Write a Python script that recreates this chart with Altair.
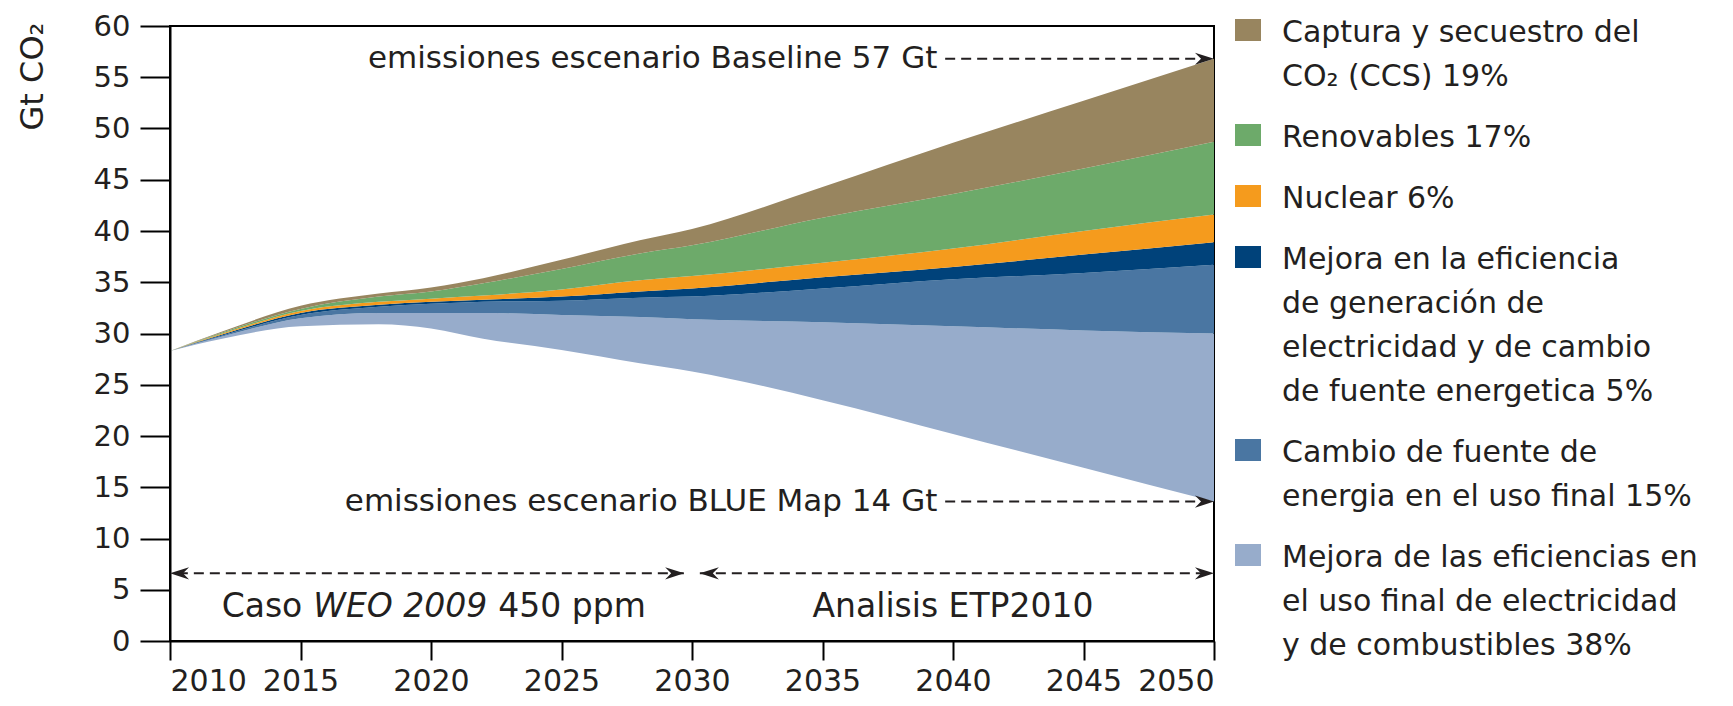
import altair as alt
import pandas as pd

# ---------------- data ----------------
years = [2010, 2012, 2015, 2018, 2020, 2022, 2025, 2028, 2030, 2035, 2040, 2045, 2050]
# lower edge = BLUE Map emissions
blue_map = [28.3, 29.5, 30.7, 30.9, 30.5, 29.5, 28.4, 27.1, 26.3, 23.5, 20.2, 16.9, 13.6]
# cumulative upper edges of each wedge
top_end_use_eff = [28.3, 29.7, 31.5, 32.0, 32.0, 32.0, 31.8, 31.6, 31.4, 31.1, 30.7, 30.3, 30.0]
top_end_use_switch = [28.3, 29.8, 31.8, 32.6, 32.9, 33.1, 33.2, 33.5, 33.6, 34.4, 35.3, 35.9, 36.7]
top_power_eff = [28.3, 29.9, 32.0, 32.8, 33.1, 33.3, 33.6, 34.1, 34.4, 35.5, 36.5, 37.7, 38.9]
top_nuclear = [28.3, 30.0, 32.2, 33.1, 33.4, 33.7, 34.3, 35.2, 35.6, 36.9, 38.3, 40.0, 41.6]
top_renewables = [28.3, 30.1, 32.4, 33.6, 34.1, 34.9, 36.3, 37.8, 38.6, 41.3, 43.6, 46.1, 48.7]
baseline = [28.3, 30.2, 32.7, 33.9, 34.5, 35.4, 37.2, 39.1, 40.2, 44.3, 48.6, 52.7, 56.8]

layer_labels = [
    "Mejora de las eficiencias en\nel uso final de electricidad\ny de combustibles 38%",
    "Cambio de fuente de\nenergia en el uso final 15%",
    "Mejora en la eficiencia\nde generación de\nelectricidad y de cambio\nde fuente energetica 5%",
    "Nuclear 6%",
    "Renovables 17%",
    "Captura y secuestro del\nCO₂ (CCS) 19%",
]
layer_colors = ["#97ACCB", "#4A76A2", "#00427A", "#F59B1D", "#6DAA6A", "#98855F"]

x_ticks = list(range(2010, 2051, 5))
y_ticks = list(range(0, 61, 5))

baseline_text = "emissiones escenario Baseline 57 Gt"
bluemap_text = "emissiones escenario BLUE Map 14 Gt"
period1_parts = ["Caso", "WEO 2009", "450 ppm"]
period2_text = "Analisis ETP2010"
y_title = "Gt CO₂"

# ---------------- styling ----------------
FONT = "DejaVu Sans"
TXT = "#231F20"
W, H = 1044, 615

bounds = [blue_map, top_end_use_eff, top_end_use_switch, top_power_eff,
          top_nuclear, top_renewables, baseline]
rows = []
for i, lab in enumerate(layer_labels):
    for j, yr in enumerate(years):
        rows.append({"year": yr, "layer": lab, "lo": bounds[i][j], "hi": bounds[i + 1][j]})
df = pd.DataFrame(rows)

x_scale = alt.Scale(domain=[2010, 2050], nice=False, zero=False)
y_scale = alt.Scale(domain=[0, 60], nice=False)

areas = alt.Chart(df).mark_area(interpolate="monotone").encode(
    x=alt.X("year:Q", scale=x_scale,
            axis=alt.Axis(values=x_ticks, format="d", title=None, tickSize=19,
                          labelPadding=6, labelFontSize=30)),
    y=alt.Y("lo:Q", scale=y_scale,
            axis=alt.Axis(values=y_ticks, title=y_title, tickSize=30, labelPadding=10,
                          labelFontSize=29, titleAngle=270, titleX=-138, titleY=50,
                          titleAlign="center", titleBaseline="middle",
                          titleFontSize=32, titleFontWeight="normal",
                          titleFont=FONT, titleColor=TXT)),
    y2="hi:Q",
    color=alt.Color("layer:N", scale=alt.Scale(domain=layer_labels, range=layer_colors),
                    legend=None),
)

# ---------------- annotations ----------------
end_year = years[-1]
dash_start = 2039.7
ann_df = pd.DataFrame({
    "x": [dash_start - 0.3, dash_start - 0.3],
    "y": [baseline[-1], blue_map[-1]],
    "t": [baseline_text, bluemap_text],
})
ann_text = alt.Chart(ann_df).mark_text(
    align="right", baseline="middle", font=FONT, fontSize=31, color=TXT
).encode(x=alt.X("x:Q", scale=x_scale), y=alt.Y("y:Q", scale=y_scale), text="t:N")

period_y = 6.6
rules_df = pd.DataFrame({
    "x": [dash_start, dash_start, 2010.3, 2030.3],
    "x2": [end_year - 0.3, end_year - 0.3, 2029.7, end_year - 0.3],
    "y": [baseline[-1], blue_map[-1], period_y, period_y],
})
rules = alt.Chart(rules_df).mark_rule(
    strokeDash=[10, 6], strokeWidth=2, color=TXT
).encode(x=alt.X("x:Q", scale=x_scale), x2="x2:Q", y=alt.Y("y:Q", scale=y_scale))

RIGHT_HEAD = "M 0 0 L -2.2 -0.7 L -1.5 0 L -2.2 0.7 Z"
LEFT_HEAD = "M 0 0 L 2.2 -0.7 L 1.5 0 L 2.2 0.7 Z"
rh_df = pd.DataFrame({"x": [end_year, end_year, 2029.7, end_year],
                      "y": [baseline[-1], blue_map[-1], period_y, period_y]})
lh_df = pd.DataFrame({"x": [2010, 2030.3], "y": [period_y, period_y]})
rheads = alt.Chart(rh_df).mark_point(
    shape=RIGHT_HEAD, filled=True, size=300, color=TXT, opacity=1
).encode(x=alt.X("x:Q", scale=x_scale), y=alt.Y("y:Q", scale=y_scale))
lheads = alt.Chart(lh_df).mark_point(
    shape=LEFT_HEAD, filled=True, size=300, color=TXT, opacity=1
).encode(x=alt.X("x:Q", scale=x_scale), y=alt.Y("y:Q", scale=y_scale))

label_y = 3.3
p1_df = pd.DataFrame({"x": [2020.05], "y": [label_y]})
p1_layers = []
for txt, align, dx, style in [(period1_parts[0], "right", -130, "normal"),
                              (period1_parts[1], "left", -119, "italic"),
                              (period1_parts[2], "left", 66, "normal")]:
    p1_layers.append(
        alt.Chart(p1_df).mark_text(
            text=txt, align=align, dx=dx, baseline="middle", font=FONT,
            fontSize=33, fontStyle=style, color=TXT
        ).encode(x=alt.X("x:Q", scale=x_scale), y=alt.Y("y:Q", scale=y_scale))
    )
p2_df = pd.DataFrame({"x": [2040.0], "y": [label_y], "t": [period2_text]})
p2 = alt.Chart(p2_df).mark_text(
    align="center", baseline="middle", font=FONT, fontSize=33, color=TXT
).encode(x=alt.X("x:Q", scale=x_scale), y=alt.Y("y:Q", scale=y_scale), text="t:N")

# ---------------- manual legend (to the right of the plot) ----------------
legend_layers = []
line_h, gap, y0 = 44, 17, 5
sq_x, sq_w, sq_h, txt_x = 1065, 26, 22, 1112
y_cur = y0
for lab, col in reversed(list(zip(layer_labels, layer_colors))):
    n = lab.count("\n") + 1
    legend_layers.append(
        alt.Chart(p2_df).mark_rect(color=col).encode(
            x=alt.value(sq_x), x2=alt.value(sq_x + sq_w),
            y=alt.value(y_cur - sq_h / 2 - 1), y2=alt.value(y_cur + sq_h / 2 - 1))
    )
    legend_layers.append(
        alt.Chart(p2_df).mark_text(
            text=lab, lineBreak="\n", lineHeight=line_h, align="left",
            baseline="alphabetic", font=FONT, fontSize=30, color=TXT
        ).encode(x=alt.value(txt_x), y=alt.value(y_cur + 11))
    )
    y_cur += n * line_h + gap

chart = alt.layer(
    areas, rules, rheads, lheads, ann_text, *p1_layers, p2, *legend_layers
).properties(
    width=W, height=H,
    autosize=alt.AutoSizeParams(type="none"),
    padding={"left": 162, "top": 18, "right": 506, "bottom": 57},
    background="white",
).configure_view(
    stroke="black", strokeWidth=2
).configure_axis(
    grid=False, domainColor="black", domainWidth=2, tickColor="black", tickWidth=2,
    labelFont=FONT, labelColor=TXT,
)

chart.save("out.html", embed_options={"renderer": "svg", "actions": False})
